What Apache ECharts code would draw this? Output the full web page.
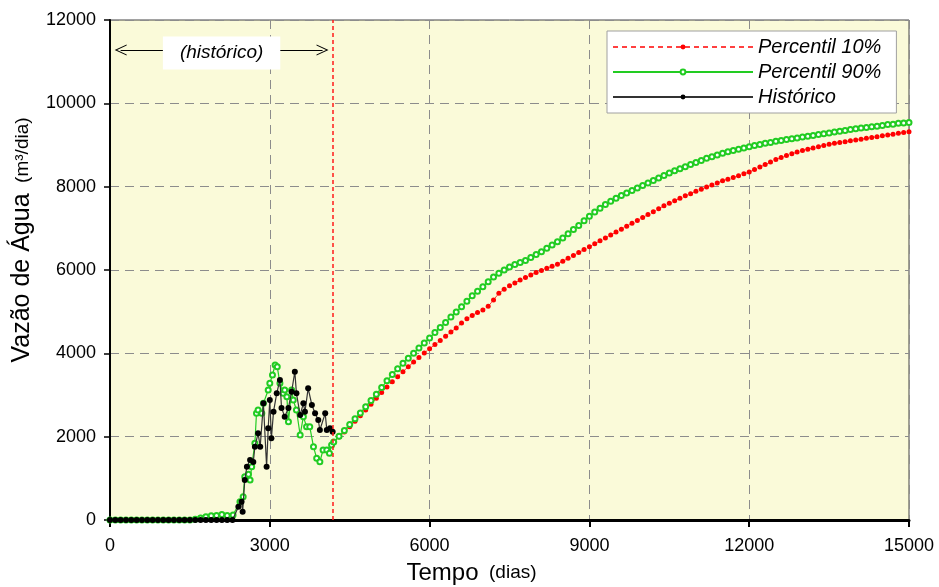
<!DOCTYPE html>
<html>
<head>
<meta charset="utf-8">
<script src="https://cdn.jsdelivr.net/npm/echarts@6/dist/echarts.min.js"></script>
<style>
html,body{margin:0;padding:0;background:#fff;}
#chart{width:939px;height:587px;}
</style>
</head>
<body>
<div id="chart"></div>
<script>
// ---- Data ----
const seriesNames = ['Percentil 10%', 'Percentil 90%', 'Histórico'];
const xTicks = [0, 3000, 6000, 9000, 12000, 15000];
const yTicks = [0, 2000, 4000, 6000, 8000, 10000, 12000];
const historyEndDay = 4190;
const annotationText = '(histórico)';
const annotationLevel = 11280;
const annotationStartDay = 200;
const annotationEndDay = 3990;

const histDays = [0,100,200,300,400,500,600,700,800,900,1000,1100,1200,1300,1400,1500,1600,1700,1800,1900,2000,2100,2200,2300,
  2410,2470,2490,2530,2570,2630,2690,2720,2780,2820,2880,2940,2970,3000,3030,3070,3130,3190,3220,3280,
  3350,3410,3470,3500,3570,3630,3660,3720,3790,3850,3910,3940,4040,4070,4130,4180];
const histVals = [0,0,0,0,0,0,0,0,0,0,0,0,0,0,0,0,0,0,0,0,0,0,0,0,
  320,440,200,960,1280,1440,1390,1760,2080,1760,2800,1280,2200,2880,1960,2600,3040,3360,2690,2480,
  2690,3080,3560,3040,2520,2800,2600,3160,2760,2560,2400,2160,2560,2160,2200,2120];

const p90HistDays = [0,100,200,300,400,500,600,700,800,900,1000,1100,1200,1300,1400,1500,
  1600,1700,1800,1900,2000,2100,2200,2310,
  2440,2500,2530,2600,2630,2660,2720,2750,2780,2850,2880,2970,3000,3050,3100,3140,3190,3250,3280,3320,
  3350,3410,3440,3500,3570,3630,3690,3750,3820,3880,3940,4000,4070,4120,4160];
const p90HistVals = [0,0,0,0,0,0,0,0,0,0,0,0,0,0,0,0,
  20,50,80,100,110,130,110,120,
  440,560,1040,1100,960,1280,1840,2560,2640,2560,2800,3120,3280,3480,3720,3680,3280,3040,3120,2960,
  2360,3120,2880,2640,2040,2480,2240,2240,1760,1480,1400,1680,1680,1600,1800];

const forecastDays = [4200,4300,4400,4500,4600,4700,4800,4900,5000,5100,5200,5300,5400,5500,5600,5700,5800,5900,6000,6100,
  6200,6300,6400,6500,6600,6700,6800,6900,7000,7100,7200,7300,7400,7500,7600,7700,7800,7900,8000,8100,
  8200,8300,8400,8500,8600,8700,8800,8900,9000,9100,9200,9300,9400,9500,9600,9700,9800,9900,10000,10100,
  10200,10300,10400,10500,10600,10700,10800,10900,11000,11100,11200,11300,11400,11500,11600,11700,11800,11900,12000,12100,
  12200,12300,12400,12500,12600,12700,12800,12900,13000,13100,13200,13300,13400,13500,13600,13700,13800,13900,14000,14100,
  14200,14300,14400,14500,14600,14700,14800,14900,15000];
const p10Vals = [1870,1990,2110,2240,2370,2500,2640,2780,2920,3060,3190,3320,3440,3560,3680,3790,3900,4010,4110,4210,
  4310,4410,4510,4610,4730,4830,4910,4980,5040,5130,5280,5440,5540,5620,5690,5760,5820,5880,5940,5990,
  6040,6090,6140,6210,6280,6350,6420,6490,6560,6630,6700,6770,6840,6910,6980,7050,7120,7190,7260,7330,
  7400,7470,7540,7600,7660,7720,7780,7830,7890,7940,7990,8040,8090,8140,8180,8220,8260,8310,8350,8410,
  8470,8530,8590,8650,8700,8750,8790,8830,8870,8900,8930,8960,8990,9020,9040,9060,9080,9100,9120,9140,
  9160,9180,9200,9220,9240,9260,9280,9300,9320];
const p90Vals = [1870,2010,2150,2290,2430,2570,2720,2870,3020,3180,3340,3490,3630,3760,3880,4000,4130,4250,4370,4500,
  4620,4740,4870,4990,5120,5250,5380,5490,5600,5720,5830,5920,6000,6070,6130,6180,6230,6300,6370,6440,
  6520,6600,6680,6770,6870,6970,7070,7180,7290,7390,7480,7570,7650,7720,7790,7850,7910,7970,8030,8090,
  8150,8210,8270,8330,8380,8430,8480,8530,8580,8630,8680,8720,8760,8800,8840,8870,8900,8930,8960,8990,
  9010,9040,9060,9090,9110,9130,9150,9170,9190,9210,9230,9250,9270,9290,9310,9330,9350,9370,9390,9410,
  9420,9440,9450,9470,9490,9500,9520,9530,9540];

// ---- Build ----
const zip = (xs, ys) => xs.map((x, i) => [x, ys[i]]);
const p10Data = zip(forecastDays, p10Vals);
const p90Data = zip(p90HistDays, p90HistVals).concat(zip(forecastDays, p90Vals));
const histData = zip(histDays, histVals);

const FONT = '"Liberation Sans", Arial, sans-serif';
const chart = echarts.init(document.getElementById('chart'), null, {renderer: 'canvas'});
const gridLine = {show: true, lineStyle: {color: '#8c8c8c', type: [9, 6], width: 1}};
const chevron = 'path://M0,10 L5,0 L10,10 L9,10 L5,2 L1,10 Z';

chart.setOption({
  animation: false,
  backgroundColor: '#ffffff',
  grid: {left: 110, right: 30, top: 20, bottom: 67, outerBoundsMode: 'none', containLabel: false,
    show: true, backgroundColor: '#FAFAD9', borderColor: '#444', borderWidth: 1},
  legend: {
    data: seriesNames,
    orient: 'vertical',
    left: 607, top: 31,
    backgroundColor: '#ffffff',
    borderColor: '#a0a0a0', borderWidth: 1,
    padding: [6, 15, 6, 5],
    itemWidth: 140, itemHeight: 6, itemGap: 5,
    textStyle: {fontFamily: FONT, fontSize: 20, fontStyle: 'italic', color: '#000'}
  },
  xAxis: {
    type: 'value', min: xTicks[0], max: xTicks[xTicks.length - 1], interval: xTicks[1] - xTicks[0],
    name: '{a|Tempo}{b|  (dias)}', nameLocation: 'middle', nameGap: 41,
    nameTextStyle: {padding: [0, 76, 0, 0], rich: {a: {fontFamily: FONT, fontSize: 24, color: '#000'}, b: {fontFamily: FONT, fontSize: 19, color: '#000'}}},
    axisLine: {show: true, onZero: false, lineStyle: {color: '#000', width: 3}},
    axisTick: {show: true, inside: false, length: 7, lineStyle: {color: '#000', width: 2}},
    axisLabel: {fontFamily: FONT, fontSize: 18, color: '#000', margin: 17, formatter: v => String(v)},
    splitLine: gridLine
  },
  yAxis: {
    type: 'value', min: yTicks[0], max: yTicks[yTicks.length - 1], interval: yTicks[1] - yTicks[0],
    name: '{a|Vazão de Água}{b|  (m³/dia)}', nameLocation: 'middle', nameRotate: 90, nameGap: 72,
    nameTextStyle: {padding: [0, 0, 0, 60], rich: {a: {fontFamily: FONT, fontSize: 25, color: '#000'}, b: {fontFamily: FONT, fontSize: 19, color: '#000'}}},
    axisLine: {show: true, lineStyle: {color: '#000', width: 2}},
    axisTick: {show: true, inside: false, length: 6, lineStyle: {color: '#000', width: 1.5}},
    axisLabel: {fontFamily: FONT, fontSize: 18, color: '#000', margin: 14, formatter: v => String(v)},
    splitLine: gridLine
  },
  series: [
    {
      name: seriesNames[0], type: 'line', data: p10Data,
      symbol: 'circle', symbolSize: 5, showAllSymbol: true,
      itemStyle: {color: '#ff0000'},
      lineStyle: {color: '#ff4040', width: 1, type: [5, 4]},
      z: 2,
      markLine: {
        silent: true, symbol: ['none', 'none'],
        lineStyle: {color: '#ff1a1a', type: [4, 3], width: 1.5},
        label: {show: false},
        data: [{xAxis: historyEndDay}]
      }
    },
    {
      name: seriesNames[1], type: 'line', data: p90Data,
      symbol: 'emptyCircle', symbolSize: 5, showAllSymbol: true,
      itemStyle: {color: '#22cc22', borderColor: '#22cc22', borderWidth: 1.2},
      lineStyle: {color: '#22cc22', width: 1.2},
      z: 3
    },
    {
      name: seriesNames[2], type: 'line', data: histData,
      symbol: 'circle', symbolSize: 6, showAllSymbol: true,
      itemStyle: {color: '#000'},
      lineStyle: {color: '#333', width: 1.2},
      z: 4,
      markLine: {
        silent: true,
        symbol: [chevron, chevron],
        symbolSize: [11, 12],
        lineStyle: {color: '#000', type: 'solid', width: 1},
        label: {
          show: true, position: 'middle', formatter: annotationText, distance: 0,
          verticalAlign: 'middle', offset: [0, 3],
          fontFamily: FONT, fontSize: 19, fontStyle: 'italic', color: '#000',
          backgroundColor: '#fff', padding: [7, 17, 7, 17]
        },
        data: [[{coord: [annotationStartDay, annotationLevel]}, {coord: [annotationEndDay, annotationLevel]}]]
      }
    }
  ]
});
</script>
</body>
</html>
